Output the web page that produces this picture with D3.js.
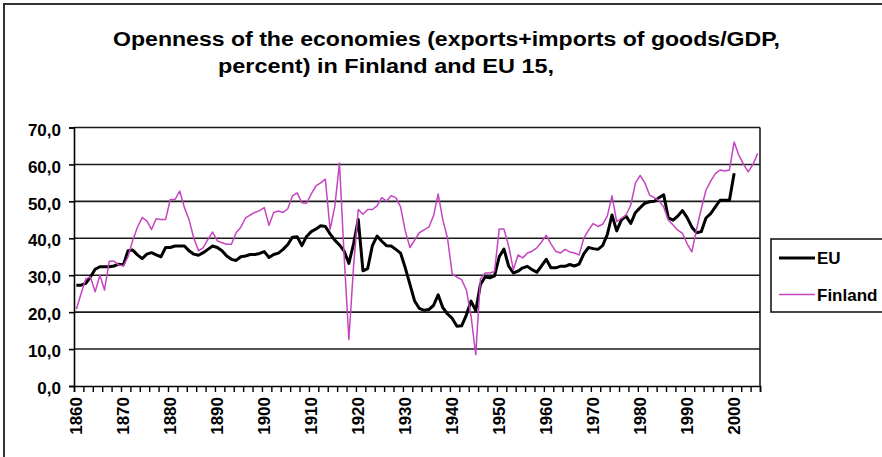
<!DOCTYPE html>
<html>
<head>
<meta charset="utf-8">
<script src="https://cdn.jsdelivr.net/npm/d3@7"></script>
<style>
  body { margin: 0; background: #fff; }
  text { font-family: "Liberation Sans", Arial, sans-serif; font-weight: bold; fill: #000; }
</style>
</head>
<body>
<div id="myPlot"></div>
<script>
// Openness of the economies, percent
const startYear = 1860;

const finland = [
  20.8, 25, 29, 29.5, 25.5, 30, 26, 33.8, 33.8, 32.8,        // 1860s
  32.5, 35, 39.5, 43, 45.6, 44.7, 42.4, 45.3, 45.1, 45.1,    // 1870s
  50.5, 50.5, 52.8, 48.3, 45, 40, 36.6, 37.5, 39.7, 41.7,    // 1880s
  39.3, 38.8, 38.4, 38.4, 41.5, 43, 45.5, 46.3, 47, 47.5,    // 1890s
  48.3, 43.5, 47, 47.4, 47, 48, 51.5, 52.3, 49.6, 49.5,      // 1900s
  52, 54.2, 55, 56, 42.4, 48.5, 60.4, 35, 12.6, 32.4,        // 1910s
  47.8, 46.5, 47.8, 47.8, 48.8, 51, 50.1, 51.5, 51, 48.5,    // 1920s
  42, 37.5, 39.5, 41.5, 42.3, 43, 46, 52, 45, 40,            // 1930s
  30.3, 29.5, 28.8, 26, 19, 8.5, 29, 30.6, 30.6, 31,         // 1940s
  42.5, 42.5, 38, 31.5, 35.5, 34.7, 36, 36.5, 37.4, 39,      // 1950s
  40.8, 38.5, 36.5, 36, 37, 36.3, 36, 35.5, 40, 42.2,        // 1960s
  44, 43.2, 43.8, 46, 51.5, 44.5, 45.4, 46.3, 49, 55,        // 1970s
  57, 55, 51.7, 51, 50.2, 48.5, 44.9, 43.6, 42.2, 41.3,      // 1980s
  38.5, 36.3, 42.5, 48, 53, 55.5, 57.5, 58.5, 58.2, 58.5,    // 1990s
  66.1, 62.5, 60, 58, 60, 63                                 // 2000s
];

const eu = [
  27.3, 27.3, 27.8, 29.5, 31.6, 32.3, 32.3, 32.3, 32.5, 33,  // 1860s
  32.8, 36.6, 36.8, 35.5, 34.5, 35.7, 36.1, 35.5, 35, 37.5,  // 1870s
  37.5, 37.9, 37.9, 37.9, 36.6, 35.7, 35.4, 36.1, 37, 37.9,  // 1880s
  37.5, 36.6, 35.2, 34.3, 34, 35, 35.2, 35.6, 35.6, 35.9,    // 1890s
  36.4, 34.8, 35.6, 36, 37, 38.3, 40.3, 40.4, 38, 40.5,      // 1900s
  41.8, 42.5, 43.4, 43.2, 41.2, 39.5, 38.2, 36.5, 33.2, 38.5,// 1910s
  45.1, 31.2, 31.8, 38, 40.6, 39.2, 38, 37.9, 37, 36,        // 1920s
  32, 27.5, 23, 21, 20.5, 20.7, 21.8, 24.7, 21.2, 19.5,      // 1930s
  18.3, 16.2, 16.3, 19.2, 23, 20.4, 27.5, 29.5, 29.3, 29.8,  // 1940s
  35, 37.1, 32.5, 30.6, 31.1, 32, 32.4, 31.5, 30.8, 32.5,    // 1950s
  34.3, 32, 32, 32.4, 32.4, 32.9, 32.5, 33, 35.8, 37.5,      // 1960s
  37.2, 37, 38, 41, 46.3, 42, 45, 46, 44, 47,                // 1970s
  48.3, 49.5, 49.9, 50, 51, 51.8, 45.5, 44.9, 46, 47.5,      // 1980s
  45.6, 43, 41.5, 41.8, 45.5, 46.7, 48.5, 50.3, 50.3, 50.3,  // 1990s
  57.6                                                       // 2000
];

const yTicks = [0, 10, 20, 30, 40, 50, 60, 70];
const labelYears = [1860, 1870, 1880, 1890, 1900, 1910, 1920, 1930, 1940, 1950, 1960, 1970, 1980, 1990, 2000];
const seriesNames = ["EU", "Finland"];
const seriesColors = ["#000000", "#c545c0"];

const width = 882;
const height = 457;
const plot = { left: 74, right: 760, top: 127.5, bottom: 386 };

const svg = d3.select("#myPlot")
  .append("svg")
  .attr("width", width)
  .attr("height", height);

svg.append("rect")
  .attr("width", width)
  .attr("height", height)
  .attr("fill", "#fff");

// chart frame (only top and left are in the picture)
svg.append("path")
  .attr("d", "M4," + height + "V4H" + width)
  .attr("fill", "none")
  .attr("stroke", "#333")
  .attr("stroke-width", 2);

// Title
svg.append("text")
  .attr("x", 113).attr("y", 46)
  .attr("font-size", 20)
  .attr("textLength", 667)
  .attr("lengthAdjust", "spacingAndGlyphs")
  .text("Openness of the economies (exports+imports of goods/GDP,");

svg.append("text")
  .attr("x", 218).attr("y", 73)
  .attr("font-size", 20)
  .attr("textLength", 336)
  .attr("lengthAdjust", "spacingAndGlyphs")
  .text("percent) in Finland and EU 15,");

// Scales: one category per year, points in the middle of each category
const x = d3.scaleLinear()
  .domain([startYear - 0.5, startYear + finland.length - 0.5])
  .range([plot.left, plot.right]);

const y = d3.scaleLinear()
  .domain([0, 70])
  .range([plot.bottom, plot.top]);

// Gridlines
svg.append("g")
  .selectAll("line")
  .data(yTicks.filter(d => d > 0)).enter()
  .append("line")
  .attr("x1", plot.left).attr("x2", plot.right)
  .attr("y1", d => y(d)).attr("y2", d => y(d))
  .attr("stroke", "#1a1a1a")
  .attr("stroke-width", 1.6);

// right edge of plot
svg.append("line")
  .attr("x1", plot.right).attr("x2", plot.right)
  .attr("y1", y(70)).attr("y2", y(0))
  .attr("stroke", "#1a1a1a")
  .attr("stroke-width", 1.6);

// Y Axis
const yAxis = svg.append("g")
  .attr("transform", "translate(" + plot.left + ",0)")
  .call(d3.axisLeft(y).tickValues(yTicks).tickSize(5).tickPadding(8)
    .tickFormat(d => d3.format(".1f")(d).replace(".", ",")));
yAxis.select(".domain").attr("stroke", "#000").attr("stroke-width", 1.6);
yAxis.selectAll(".tick line").attr("stroke", "#000").attr("stroke-width", 1.6);
yAxis.selectAll("text")
  .attr("font-size", 17)
  .attr("font-family", "Liberation Sans, Arial, sans-serif")
  .attr("font-weight", "bold")
  .attr("dy", "0.45em");

// X Axis: tick marks every two categories
const xTicks = d3.range(startYear - 0.5, startYear + finland.length, 2);
const xAxis = svg.append("g")
  .attr("transform", "translate(0," + plot.bottom + ")")
  .call(d3.axisBottom(x).tickValues(xTicks).tickSize(6).tickFormat(""));
xAxis.select(".domain").attr("stroke", "#000").attr("stroke-width", 1.6);
xAxis.selectAll(".tick line").attr("stroke", "#000").attr("stroke-width", 1.4);

// X labels, rotated
svg.append("g")
  .selectAll("text")
  .data(labelYears).enter()
  .append("text")
  .attr("transform", d => "translate(" + x(d) + "," + (plot.bottom + 11) + ") rotate(-90)")
  .attr("text-anchor", "end")
  .attr("dy", "0.36em")
  .attr("font-size", 17)
  .text(d => d);

// Lines
const line = d3.line()
  .x((d, i) => x(startYear + i))
  .y(d => y(d));

[eu, finland].forEach((values, k) => {
  svg.append("path")
    .datum(values)
    .attr("d", line)
    .attr("fill", "none")
    .attr("stroke", seriesColors[k])
    .attr("stroke-width", k === 0 ? 3 : 1.5)
    .attr("stroke-linejoin", "round");
});

// Legend
const legend = svg.append("g").attr("transform", "translate(771,239)");
legend.append("rect")
  .attr("width", 140).attr("height", 73)
  .attr("fill", "#fff")
  .attr("stroke", "#1a1a1a")
  .attr("stroke-width", 1.6);

seriesNames.forEach((name, k) => {
  const ly = 19 + k * 36.5;
  legend.append("line")
    .attr("x1", 8).attr("x2", 44)
    .attr("y1", ly).attr("y2", ly)
    .attr("stroke", seriesColors[k])
    .attr("stroke-width", k === 0 ? 3 : 1.5);
  legend.append("text")
    .attr("x", 46).attr("y", ly)
    .attr("dy", "0.36em")
    .attr("font-size", 17)
    .text(name);
});
</script>
</body>
</html>
